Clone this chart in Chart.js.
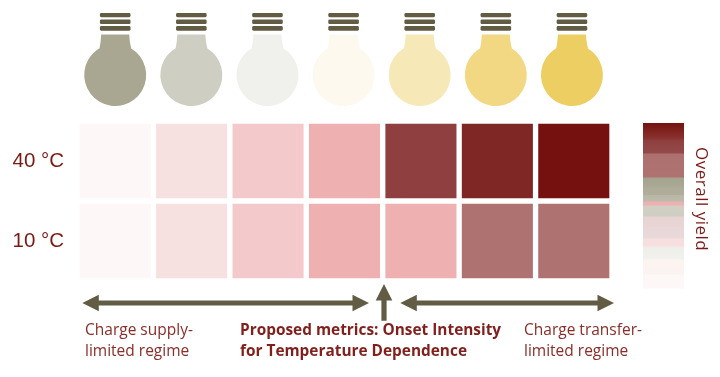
<!DOCTYPE html>
<html><head><meta charset="utf-8">
<style>html,body{margin:0;padding:0;background:#fff}canvas{display:block}</style>
<script src="https://cdn.jsdelivr.net/npm/chart.js@4"></script></head>
<body><canvas id="c" width="720" height="377"></canvas>
<script>
const categories = ['1','2','3','4','5','6','7'];
const rowLabels = ['10 °C','40 °C'];
const palette = ['#fdf7f7','#f7e0e0','#f3c9cb','#eeb0b1','#ae7371','#8f3f3f','#7f2725','#75120f'];
const level10 = [0,1,2,3,3,4,4];
const level40 = [0,1,2,3,5,6,7];
const cellValue10 = [1,1,1,1,1,1,1];
const cellValue40 = [1,1,1,1,1,1,1];
const bulbColors = ['#a9a792','#cfcec3','#f0f1ed','#fdf9ee','#f7e8b8','#f2d883','#edce62'];
const legendLow  = ['#fdf7f7','#fbf3f1','#f1f1ed','#f8dfdf','#e9d9da','#e9d5d5','#cfcec3','#efb0b1','#bcbbab','#b0ae9b','#aaa995','#ae7371','#944a49','#8a3330'];
const legendHigh = ['#fdf8f8','#fdf4f2','#edeeea','#f8dfdf','#e9d7d8','#e8d3d3','#d2d0c5','#efb0b1','#b8b7a6','#aeac98','#a3a28c','#ad7070','#8d3e3d','#75120f'];
const legendBands = [14,15,13,8,11,11,11,4,6.5,7.5,10,24,14,16];
const BROWN = '#625c45', RED = '#7a1a16';
const FONT = '"Open Sans"';

function arrow(ctx, x1, y1, x2, y2, both){
  const a = Math.atan2(y2-y1, x2-x1), L = Math.hypot(x2-x1,y2-y1);
  ctx.save(); ctx.translate(x1,y1); ctx.rotate(a); ctx.fillStyle = BROWN;
  const h=16.5, w=8.3, t=2.6;
  ctx.beginPath();
  if(both){ ctx.moveTo(0,0); ctx.lineTo(h,-w); ctx.lineTo(h,-t);} else { ctx.moveTo(0,-t);}
  ctx.lineTo(L-h,-t); ctx.lineTo(L-h,-w); ctx.lineTo(L,0); ctx.lineTo(L-h,w); ctx.lineTo(L-h,t);
  if(both){ ctx.lineTo(h,t); ctx.lineTo(h,w);} else { ctx.lineTo(0,t);}
  ctx.closePath(); ctx.fill(); ctx.restore();
}
function bulb(ctx, cx, color){
  ctx.fillStyle = color;
  ctx.beginPath();
  ctx.moveTo(cx-14,34.5);
  ctx.lineTo(cx+14,34.5);
  ctx.quadraticCurveTo(cx+14.5,43,cx+16,48);
  ctx.arc(cx,75,31,-Math.PI/2+0.53,Math.PI*1.5-0.53);
  ctx.quadraticCurveTo(cx-14.5,43,cx-14,34.5);
  ctx.closePath(); ctx.fill();
  ctx.fillStyle = BROWN;
  [[13,4.2],[19.4,4.7],[26,4.7]].forEach(([y,h])=>{
    ctx.beginPath(); ctx.roundRect(cx-15.3,y,30.6,h,1.4); ctx.fill();
  });
}
const overlay = {
  id:'overlay',
  afterDraw(chart){
    const ctx = chart.ctx, x = chart.scales.x;
    ctx.save();
    const first = x.getPixelForValue(0);
    categories.forEach((c,i)=> bulb(ctx, first+(x.getPixelForValue(i)-first)*0.996, bulbColors[i]));
    // colour-scale strip
    const total = legendBands.reduce((a,b)=>a+b,0);
    let y = 288;
    legendLow.forEach((col,i)=>{
      const h = legendBands[i]*165/total;
      const g = ctx.createLinearGradient(0,y,0,y-h);
      g.addColorStop(0,col); g.addColorStop(1,legendHigh[i]);
      ctx.fillStyle = g; ctx.fillRect(643,y-h,41,h+0.5); y -= h;
    });
    arrow(ctx,82.3,303,369,303,true);
    arrow(ctx,400.3,303,614,303,true);
    arrow(ctx,384,320.7,384,284,false);
    ctx.textBaseline='alphabetic'; ctx.textAlign='left';
    ctx.fillStyle = '#8a2c27'; ctx.font = '15.5px '+FONT;
    ctx.fillText('Charge supply-',85,335);
    ctx.fillText('limited regime',85,356);
    ctx.fillText('Charge transfer-',524,335);
    ctx.fillText('limited regime',524,356);
    ctx.fillStyle = '#801f1b'; ctx.font = 'bold 15.4px '+FONT;
    ctx.fillText('Proposed metrics: Onset Intensity',240,335);
    ctx.fillText('for Temperature Dependence',240,356);
    ctx.save(); ctx.translate(695.5,147); ctx.rotate(Math.PI/2);
    ctx.fillStyle = RED; ctx.font = '17px '+FONT; ctx.letterSpacing='0.5px';
    ctx.fillText('Overall yield',0,0); ctx.restore();
    ctx.restore();
  }
};
new Chart(document.getElementById('c'),{
  type:'bar',
  data:{labels:categories,datasets:[
    {label:rowLabels[0],data:cellValue10,backgroundColor:level10.map(l=>palette[l]),borderColor:'#fff',borderWidth:3,borderSkipped:false,barPercentage:1,categoryPercentage:1},
    {label:rowLabels[1],data:cellValue40,backgroundColor:level40.map(l=>palette[l]),borderColor:'#fff',borderWidth:3,borderSkipped:false,barPercentage:1,categoryPercentage:1}
  ]},
  options:{
    responsive:false,animation:false,
    layout:{padding:{top:121,bottom:96,left:0,right:108}},
    plugins:{legend:{display:false},tooltip:{enabled:false},title:{display:false}},
    scales:{
      x:{stacked:true,display:false},
      y:{stacked:true,min:0,max:2,
        grid:{display:false},border:{display:false},
        afterBuildTicks(s){s.ticks=[{value:0.5},{value:1.5}];},
        afterFit(s){s.width=77;},
        ticks:{color:RED,font:{family:'"Liberation Sans"',size:20.5},padding:5,
          callback:v=>rowLabels[v<1?0:1]}
      }
    }
  },
  plugins:[overlay]
});
</script></body></html>
